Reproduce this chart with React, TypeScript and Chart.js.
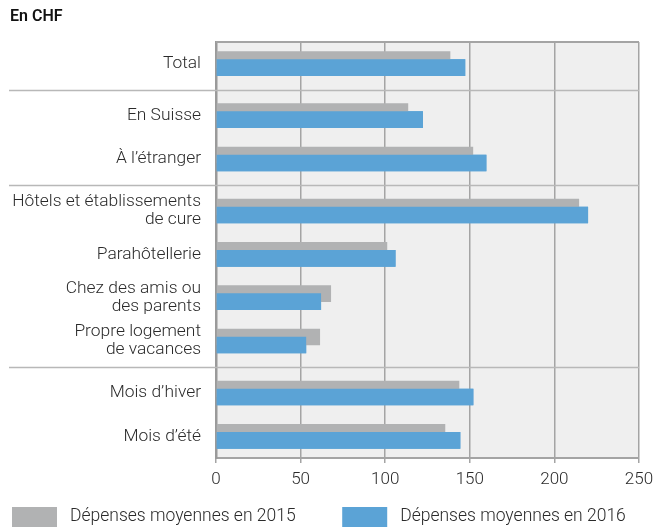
import React, { useEffect, useRef } from "react";
import { Chart, registerables } from "chart.js";

Chart.register(...registerables);

const categories: string[][] = [
  ["Total"],
  ["En Suisse"],
  ["À l’étranger"],
  ["Hôtels et établissements", "de cure"],
  ["Parahôtellerie"],
  ["Chez des amis ou", "des parents"],
  ["Propre logement", "de vacances"],
  ["Mois d’hiver"],
  ["Mois d’été"],
];
const groupOf: number[] = [0, 1, 1, 2, 2, 2, 2, 3, 3];
const values2015: number[] = [138.5, 113.6, 152, 214.6, 101.2, 68, 61.5, 143.8, 135.5];
const values2016: number[] = [147.3, 122.3, 159.8, 219.9, 106.1, 62.1, 53.3, 152.1, 144.4];
const xTicks: number[] = [0, 50, 100, 150, 200, 250];
const seriesLabels: string[] = ["Dépenses moyennes en 2015", "Dépenses moyennes en 2016"];

const GROUP_GAP = 0.2;
const FONT = "Roboto, 'Noto Sans', sans-serif";

export default function App() {
  const ref = useRef<HTMLCanvasElement | null>(null);

  useEffect(() => {
    const positions = categories.map((_, i) => i + groupOf[i] * GROUP_GAP);
    const separators: number[] = [];
    for (let i = 1; i < positions.length; i++) {
      if (groupOf[i] !== groupOf[i - 1]) separators.push((positions[i] + positions[i - 1]) / 2);
    }

    const framePlugin = {
      id: "frame",
      beforeDraw(chart: any) {
        const { ctx, chartArea } = chart;
        ctx.save();
        ctx.fillStyle = "#efefef";
        ctx.fillRect(chartArea.left, chartArea.top, chartArea.right - chartArea.left, chartArea.bottom - chartArea.top);
        ctx.restore();
      },
      beforeDatasetsDraw(chart: any) {
        const { ctx, chartArea, scales } = chart;
        ctx.save();
        ctx.strokeStyle = "#b8b8b8";
        ctx.lineWidth = 1.5;
        separators.forEach((s) => {
          const y = Math.round(scales.y.getPixelForValue(s)) + 0.5;
          ctx.beginPath();
          ctx.moveTo(9, y);
          ctx.lineTo(chartArea.right, y);
          ctx.stroke();
        });
        ctx.strokeStyle = "#a4a4a4";
        ctx.lineWidth = 2;
        ctx.beginPath();
        ctx.moveTo(chartArea.left, chartArea.top);
        ctx.lineTo(chartArea.right, chartArea.top);
        ctx.stroke();
        ctx.restore();
      },
      afterDatasetsDraw(chart: any) {
        // the 2016 series overlaps the 2015 series, so draw it once more on top
        const meta = chart.getDatasetMeta(1);
        const { ctx, chartArea } = chart;
        ctx.save();
        ctx.beginPath();
        ctx.rect(chartArea.left, chartArea.top, chartArea.right - chartArea.left, chartArea.bottom - chartArea.top);
        ctx.clip();
        meta.controller.draw();
        ctx.restore();
      },
    };

    const chart = new Chart(ref.current!, {
      type: "bar",
      data: {
        datasets: [
          {
            label: seriesLabels[0],
            data: values2015.map((v, i) => ({ x: v, y: positions[i] })),
            backgroundColor: "#b1b2b3",
            categoryPercentage: 0.37,
            barPercentage: 2.08,
          },
          {
            label: seriesLabels[1],
            data: values2016.map((v, i) => ({ x: v, y: positions[i] })),
            backgroundColor: "#5ba3d6",
            categoryPercentage: 0.37,
            barPercentage: 2.08,
          },
        ],
      },
      options: {
        indexAxis: "y",
        animation: false,
        responsive: true,
        maintainAspectRatio: false,
        layout: { padding: { left: 10, right: 31, top: 0, bottom: -9 } },
        scales: {
          x: {
            type: "linear",
            min: 0,
            max: 250,
            afterBuildTicks: (scale: any) => {
              scale.ticks = xTicks.map((v) => ({ value: v }));
            },
            afterFit: (scale: any) => {
              scale.height = 47;
            },
            grid: { color: "#a4a4a4", lineWidth: 1.5, tickLength: 5, drawOnChartArea: true },
            border: { color: "#a4a4a4", width: 2 },
            ticks: { color: "#2a2a2a", font: { family: FONT, size: 17, weight: 300 }, padding: 7 },
          },
          y: {
            type: "linear",
            reverse: true,
            offset: false,
            min: -0.5,
            max: positions[positions.length - 1] + 0.5,
            afterBuildTicks: (scale: any) => {
              scale.ticks = positions.map((v) => ({ value: v }));
            },
            afterFit: (scale: any) => {
              scale.width = 206;
            },
            grid: { display: false, offset: false },
            border: { color: "#9a9a9a", width: 2.5 },
            ticks: {
              color: "#2a2a2a",
              padding: 7,
              autoSkip: false,
              font: { family: FONT, size: 17.4, weight: 300, lineHeight: 1.03 },
              callback: (v: any) => {
                const i = positions.findIndex((p) => Math.abs(p - Number(v)) < 1e-6);
                return i >= 0 ? categories[i] : "";
              },
            },
          },
        },
        plugins: {
          title: {
            display: true,
            text: "En CHF",
            align: "start",
            color: "#111",
            font: { family: FONT, size: 16, weight: 600 },
            padding: { top: 7, bottom: 15.8 },
          },
          legend: {
            position: "bottom",
            align: "start",
            labels: {
              boxWidth: 45,
              boxHeight: 20,
              color: "#2a2a2a",
              padding: 2,
              font: { family: FONT, size: 17.5, weight: 300 },
              generateLabels: (chart: any) =>
                chart.data.datasets.map((d: any, i: number) => ({
                  text: " " + d.label + (i === 0 ? "\u2002\u2002\u2002\u2002\u2002" : ""),
                  fillStyle: d.backgroundColor,
                  strokeStyle: d.backgroundColor,
                  lineWidth: 0,
                  datasetIndex: i,
                  hidden: false,
                  fontColor: "#2a2a2a",
                })),
            },
          },
          tooltip: { enabled: false },
        },
      },
      plugins: [framePlugin],
    });
    return () => chart.destroy();
  }, []);

  return (
    <div style={{ position: "absolute", left: 0, top: 0, width: 670, height: 528 }}>
      <canvas ref={ref} />
    </div>
  );
}
